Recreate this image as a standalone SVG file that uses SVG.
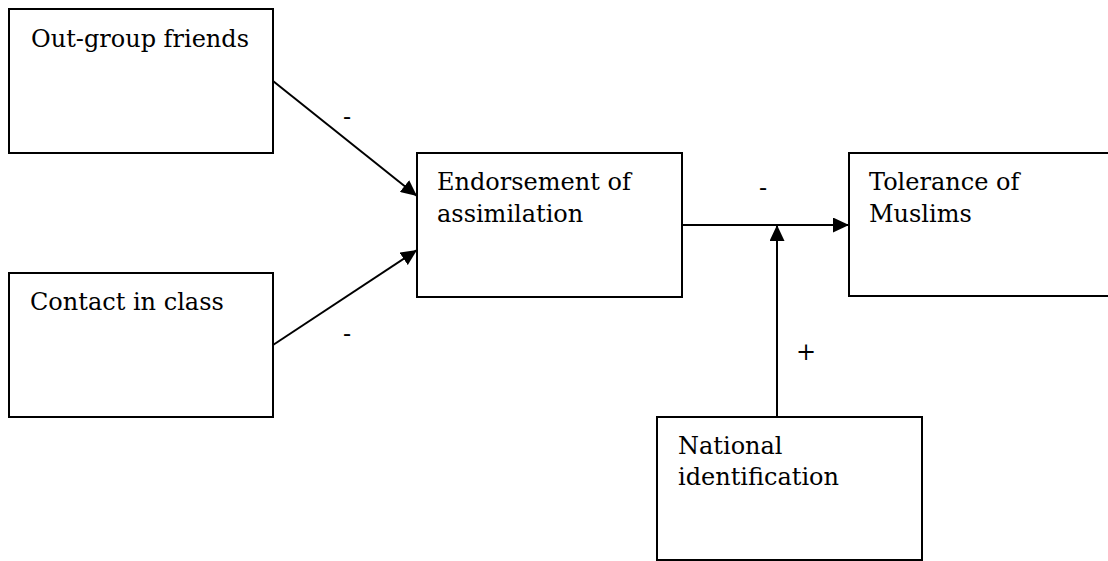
<svg xmlns="http://www.w3.org/2000/svg" width="1108" height="561" viewBox="0 0 1108 561">
<defs>
<marker id="ah" markerWidth="16" markerHeight="15" refX="16" refY="7.5" orient="auto" markerUnits="userSpaceOnUse">
<path d="M0,0 L16,7.5 L0,15 Z" fill="#000"/>
</marker>
<style>
.box{fill:#fff;stroke:#000;stroke-width:2}
.t{font-family:"DejaVu Serif","Liberation Serif",serif;font-size:24px;fill:#000}
.e{stroke:#000;stroke-width:2;fill:none}
</style>
</defs>
<rect width="1108" height="561" fill="#fff"/>
<g id="n-outgroup"><rect class="box" x="9" y="9" width="264" height="144"/><text class="t" x="31" y="47">Out-group friends</text></g>
<g id="n-contact"><rect class="box" x="9" y="273" width="264" height="144"/><text class="t" x="30" y="310">Contact in class</text></g>
<g id="n-endorse"><rect class="box" x="417" y="153" width="265" height="144"/><text class="t" x="437" y="190">Endorsement of</text><text class="t" x="437" y="222">assimilation</text></g>
<g id="n-tolerance"><rect class="box" x="849" y="153" width="270" height="143"/><text class="t" x="869" y="190">Tolerance of</text><text class="t" x="869" y="222">Muslims</text></g>
<g id="n-national"><rect class="box" x="657" y="417" width="265" height="143"/><text class="t" x="678" y="454">National</text><text class="t" x="678" y="485">identification</text></g>
<g id="connectors">
<line class="e" x1="273" y1="81" x2="417" y2="196" marker-end="url(#ah)"/>
<line class="e" x1="273" y1="345" x2="417" y2="250" marker-end="url(#ah)"/>
<line class="e" x1="682" y1="225" x2="849" y2="225" marker-end="url(#ah)"/>
<line class="e" x1="777" y1="417" x2="777" y2="225" marker-end="url(#ah)"/>
<text class="t" x="347" y="125" text-anchor="middle">-</text>
<text class="t" x="347" y="342" text-anchor="middle">-</text>
<text class="t" x="763" y="196" text-anchor="middle">-</text>
<text class="t" x="806" y="360" text-anchor="middle">+</text>
</g>
</svg>
